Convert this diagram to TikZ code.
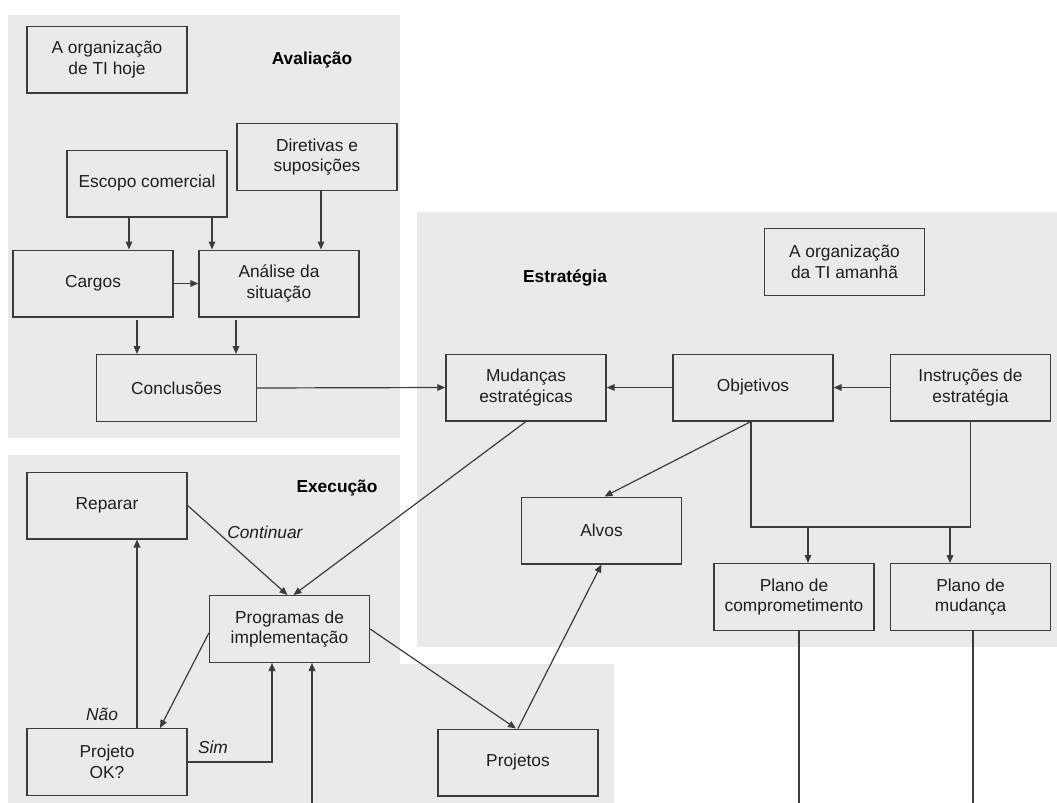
\documentclass[tikz,border=0pt]{standalone}
\usepackage{fontspec}
\setmainfont{Liberation Sans}
\usetikzlibrary{arrows.meta,calc}
\definecolor{panelgray}{HTML}{EAEAEA}
\definecolor{linegray}{HTML}{3C3C3C}
\definecolor{txtgray}{HTML}{1E1E1E}
\begin{document}
\begin{tikzpicture}[x=0.75pt,y=-0.75pt,
  panel/.style={fill=panelgray,draw=none},
  box/.style={draw=linegray,line width=1pt,minimum width=120pt,minimum height=50pt,
    inner sep=2pt,align=center,text=txtgray,font=\fontsize{13}{15.5}\selectfont},
  lbl/.style={font=\fontsize{13}{15.5}\selectfont\bfseries,text=black},
  ilbl/.style={font=\fontsize{13}{15.5}\selectfont\itshape,text=txtgray},
  conn/.style={draw=linegray,line width=0.9pt},
  arr/.style={conn,-{Triangle[length=6pt,width=5pt]}}]
\useasboundingbox (0,0) rectangle (1057,803);
\fill[white] (0,0) rectangle (1057,803);
% panels
\fill[panel] (8,15) rectangle (400,438);
\fill[panel] (8,455) rectangle (400,803);
\fill[panel] (400,664) rectangle (614,803);
\fill[panel] (417,212) rectangle (1057,647);
% labels
\node[lbl] (lav) at (312,60) {Avaliação};
\node[lbl] (lest) at (565,278) {Estratégia};
\node[lbl] (lexe) at (337,488) {Execução};
% boxes
\node[box] (hoje) at (107,59.5) {A organização\\de TI hoje};
\node[box] (dir) at (317,157) {Diretivas e\\suposições};
\node[box] (esc) at (147,183.5) {Escopo comercial};
\node[box] (cargos) at (93,283.5) {Cargos};
\node[box] (anal) at (279,283.5) {Análise da\\situação};
\node[box] (concl) at (176.5,388) {Conclusões};
\node[box] (amanha) at (844.5,262) {A organização\\da TI amanhã};
\node[box] (mud) at (526,387.5) {Mudanças\\estratégicas};
\node[box] (obj) at (753,387.5) {Objetivos};
\node[box] (instr) at (970.5,387.5) {Instruções de\\estratégia};
\node[box] (alvos) at (601.5,530.5) {Alvos};
\node[box] (pcomp) at (794,597) {Plano de\\comprometimento};
\node[box] (pmud) at (970.5,597) {Plano de\\mudança};
\node[box] (rep) at (107,505.5) {Reparar};
\node[box] (prog) at (289.5,629) {Programas de\\implementação};
\node[box] (ok) at (107,762) {Projeto\\OK?};
\node[box] (proj) at (518,762.5) {Projetos};
% helper coordinates
\coordinate (x129) at (129,0);
\coordinate (x212) at (212,0);
\coordinate (x321) at (321,0);
\coordinate (x137) at (137,0);
\coordinate (x236) at (236,0);
\coordinate (j) at (0,527);
\coordinate (a1) at (808,0);
\coordinate (a2) at (950,0);
\coordinate (b1) at (312,803);
\coordinate (b2) at (799,803);
\coordinate (b3) at (973,803);
% Avaliacao connectors
\draw[arr] (x129 |- esc.south) -- (x129 |- cargos.north);
\draw[arr] (x212 |- esc.south) -- (x212 |- anal.north);
\draw[arr] (x321 |- dir.south) -- (x321 |- anal.north);
\draw[arr] (cargos.east) -- (anal.west);
\draw[arr] ($(x137 |- cargos.south)+(0,2)$) -- (x137 |- concl.north);
\draw[arr] ($(x236 |- anal.south)+(0,2)$) -- (x236 |- concl.north);
\draw[arr] (concl.east) -- (mud.west);
% Estrategia connectors
\draw[arr] (obj.west) -- (mud.east);
\draw[arr] (instr.west) -- (obj.east);
\draw[arr] ($(obj.south)+(-2,0)$) -- ($(alvos.north)+(3,0)$);
\draw[conn] ($(obj.south)+(-2,0)$) |- (instr.south |- j) -- (instr.south);
\draw[arr] (a1 |- j) -- (a1 |- pcomp.north);
\draw[arr] (a2 |- j) -- (a2 |- pmud.north);
\draw[conn] (b2 |- pcomp.south) -- (b2);
\draw[conn] (b3 |- pmud.south) -- (b3);
% Execucao connectors
\draw[arr] (mud.south) -- ($(prog.north)+(4,0)$);
\draw[arr] (rep.east) -- node[ilbl,above right,pos=0.4,xshift=-4pt,yshift=-2pt] (lcont) {Continuar} ($(prog.north)+(-2,0)$);
\draw[arr] ($(prog.west)+(0,4)$) -- ($(ok.north)+(53,0)$);
\draw[arr] (x137 |- ok.north) -- (x137 |- rep.south);
\node[ilbl] (lnao) at (102,714) {Não};
\draw[arr] (ok.east) -| ($(prog.south)+(-17.5,0)$);
\node[ilbl] (lsim) at (213,747) {Sim};
\draw[arr] (b1) -- (b1 |- prog.south);
\draw[arr] (prog.east) -- ($(proj.north)+(-2,0)$);
\draw[arr] (proj.north) -- (alvos.south);
\end{tikzpicture}
\end{document}
